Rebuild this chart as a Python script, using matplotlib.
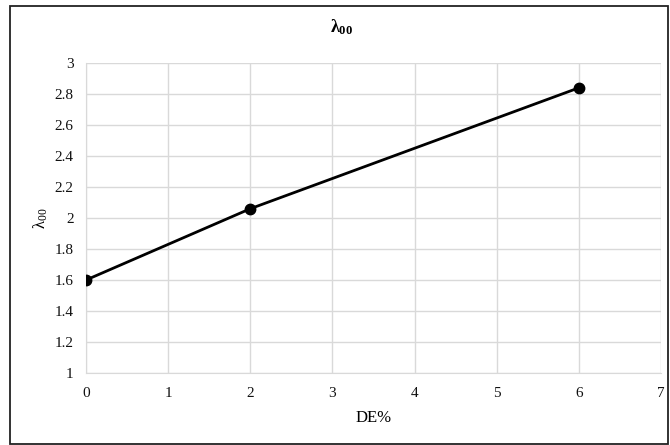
import matplotlib
matplotlib.use('Agg')
import matplotlib.pyplot as plt
from matplotlib.patches import Rectangle

plt.rcParams['font.family'] = ['Liberation Serif', 'DejaVu Serif']
plt.rcParams['mathtext.fontset'] = 'custom'
plt.rcParams['mathtext.rm'] = 'Liberation Serif'
plt.rcParams['mathtext.it'] = 'Liberation Serif'
plt.rcParams['mathtext.bf'] = 'Liberation Serif:bold'

# data
de_pct = [0, 2, 6]
lambda00 = [1.6, 2.06, 2.84]
x_ticks = [0, 1, 2, 3, 4, 5, 6, 7]
y_ticks = [1, 1.2, 1.4, 1.6, 1.8, 2, 2.2, 2.4, 2.6, 2.8, 3]

fig = plt.figure(figsize=(6.7, 4.45), dpi=100)
ax = fig.add_axes([0.1284, 0.1618, 0.8582, 0.6966])

ax.plot(de_pct, lambda00, color='black', linewidth=2, marker='o', markersize=7.5, zorder=3)

ax.set_xlim(0, 7)
ax.set_ylim(1, 3)
ax.set_xticks(x_ticks)
ax.set_yticks(y_ticks)
ax.set_xticklabels([str(t) for t in x_ticks])
ax.set_yticklabels(['%g' % t for t in y_ticks])
ax.tick_params(length=0, labelsize=11, colors='#111111', pad=10)
ax.tick_params(axis='y', pad=9)
ax.grid(True, color='#d9d9d9', linewidth=1)
for s in ax.spines.values():
    s.set_visible(False)
ax.spines['left'].set_visible(True)
ax.spines['bottom'].set_visible(True)
ax.spines['left'].set_color('#d9d9d9')
ax.spines['bottom'].set_color('#d9d9d9')

ax.set_xlabel('DE%', fontsize=12, labelpad=7)
ax.set_ylabel(r'$\mathrm{λ_{00}}$', fontsize=12, labelpad=3)

fig.text(0.51, 0.94, r'$\mathbf{λ}_{\mathbf{00}}$', ha='center', va='center', fontsize=13)

# chart border
fig.patches.append(Rectangle((10 / 670, 0.002), 658 / 670, 1 - 6 / 445 - 0.002,
                             transform=fig.transFigure, fill=False,
                             edgecolor='#222222', linewidth=1.3))

fig.savefig('out.png', dpi=100)
